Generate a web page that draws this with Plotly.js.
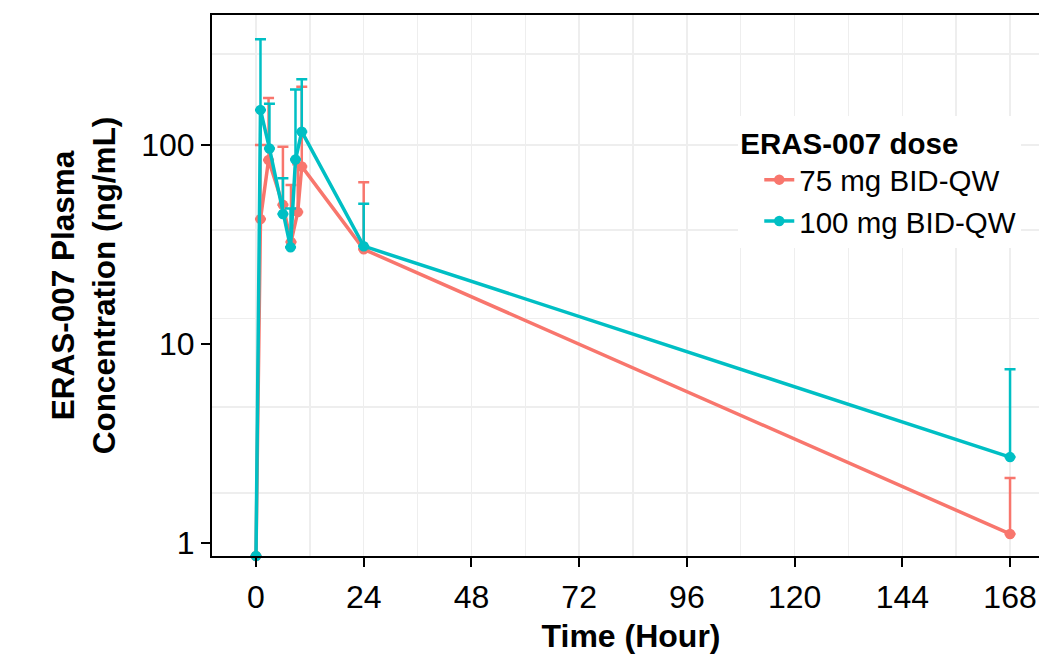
<!DOCTYPE html>
<html><head><meta charset="utf-8">
<script src="https://cdn.plot.ly/plotly-3.0.1.min.js"></script>
<style>html,body{margin:0;padding:0;overflow:hidden;background:#fff}#chart{width:1050px;height:659px}</style>
</head><body><div id="chart"></div>
<script>
// Data (t=0 samples are below the axis floor; drawn at its bottom edge)
const seriesNames = ['75 mg BID-QW', '100 mg BID-QW'];
const time75 = [0, 1, 2.8, 6, 7.8, 9.3, 10.2, 24, 168];
const conc75 = [0.86, 42.4, 84, 50, 32.5, 46, 78, 29.9, 1.11];
const upper75 = [null, 100, 172, 98, 63, 80, 196, 65, 2.12];
const time100 = [0, 1, 3, 6, 7.7, 8.8, 10.2, 24, 168];
const conc100 = [0.86, 150, 96, 45, 30.6, 84.5, 116.6, 31, 2.70];
const upper100 = [null, 340, 161, 68, 48, 190, 214, 50.7, 7.46];
const xTicks = [0, 24, 48, 72, 96, 120, 144, 168];
const yTicks = [1, 10, 100];
const yTickText = ['1', '10', '100'];
const yGrid = [1.78, 4.82, 13.4, 37.4, 100, 286];

const colors = ['#F8766D', '#00BFC4'];
const FONT = 'Liberation Sans, Arial, Helvetica, sans-serif';

function mk(name, t, c, up, color) {
  return {
    type: 'scatter', mode: 'lines+markers', name: name,
    x: t, y: c, cliponaxis: false,
    line: {color: color, width: 3.5},
    marker: {color: color, size: 10.5},
    error_y: {type: 'data', symmetric: false,
      array: up.map((u, i) => u == null ? 0 : u - c[i]),
      arrayminus: up.map(() => 0),
      color: color, thickness: 2.5, width: 5.5}
  };
}

const traces = [
  mk(seriesNames[0], time75, conc75, upper75, colors[0]),
  mk(seriesNames[1], time100, conc100, upper100, colors[1])
];

const gridColor = '#eeeeee';
const layout = {
  width: 1050, height: 659,
  margin: {l: 212, r: 0, t: 15, b: 103},
  paper_bgcolor: '#fff', plot_bgcolor: '#fff',
  font: {family: FONT, color: '#000', size: 30},
  xaxis: {
    range: [-9.8, 176.9], tickvals: xTicks, ticktext: xTicks.map(String),
    showline: true, mirror: true, linecolor: '#000', linewidth: 2,
    ticks: 'outside', ticklen: 9, tickwidth: 2, tickcolor: '#000',
    ticklabelstandoff: 3,
    showgrid: true, gridcolor: gridColor, gridwidth: 1.5, zeroline: false,
    minor: {dtick: 12, tick0: 0, showgrid: true, gridcolor: gridColor, gridwidth: 1.5, ticks: ''},
    tickfont: {size: 32, family: FONT, color: '#000'},
    title: {text: '<b>Time (Hour)</b>', font: {size: 32, family: FONT, color: '#000'}, standoff: 10}
  },
  yaxis: {
    type: 'log', range: [-0.0656, 2.653], tickvals: yTicks, ticktext: yTickText,
    showline: true, linecolor: '#000', linewidth: 2,
    ticks: 'outside', ticklen: 9, tickwidth: 2, tickcolor: '#000',
    showgrid: false, zeroline: false,
    tickfont: {size: 32, family: FONT, color: '#000'},
    title: {text: '<b>ERAS-007 Plasma<br>Concentration (ng/mL)</b>', font: {size: 31.5, family: FONT, color: '#000'}, standoff: 16}
  },
  yaxis2: {
    type: 'log', range: [-0.0656, 2.653], overlaying: 'y', side: 'left',
    tickvals: yGrid, showticklabels: false, ticks: '',
    showgrid: true, gridcolor: gridColor, gridwidth: 1.5, showline: false, zeroline: false
  },
  showlegend: true,
  legend: {
    x: 0.628, y: 0.814, xanchor: 'left', yanchor: 'top',
    bgcolor: '#fff', borderwidth: 0, indentation: 21,
    font: {size: 29.5, family: FONT, color: '#000'},
    title: {text: '<b>ERAS-007 dose</b>', font: {size: 29.5, family: FONT, color: '#000'}},
    tracegroupgap: 0
  }
};

// empty trace that activates the grid-only overlay axis
traces.push({type: 'scatter', x: [], y: [], yaxis: 'y2', showlegend: false, hoverinfo: 'skip'});

Plotly.newPlot('chart', traces, layout, {displayModeBar: false, staticPlot: true});
</script>
</body></html>
